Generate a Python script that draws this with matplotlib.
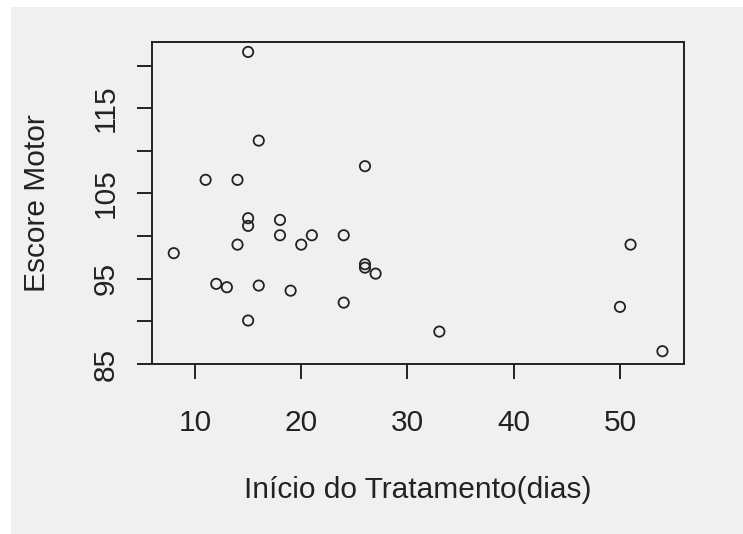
import numpy as np
import matplotlib
matplotlib.use("Agg")
import matplotlib.pyplot as plt
from matplotlib.patches import Rectangle

# Início do tratamento (dias) x escore motor
inicio = [15, 16, 26, 11, 14, 15, 15, 18, 18, 21, 24, 14, 20, 8,
          26, 26, 27, 12, 13, 16, 19, 24, 15, 33, 51, 50, 54]
escore = [121.6, 111.2, 108.2, 106.6, 106.6, 102.1, 101.2, 101.9, 100.1, 100.1, 100.1, 99.0, 99.0, 98.0,
          96.7, 96.3, 95.6, 94.4, 94.0, 94.2, 93.6, 92.2, 90.1, 88.8, 99.0, 91.7, 86.5]

x_ticks = [10, 20, 30, 40, 50]
y_ticks = [85, 90, 95, 100, 105, 110, 115, 120]
y_labels = ["85", "", "95", "", "105", "", "115", ""]

plt.rcParams['font.family'] = ['Liberation Sans', 'DejaVu Sans']
bg = "#f0f0f0"

fig = plt.figure(figsize=(7.43, 5.34), dpi=100)
fig.patch.set_facecolor("white")
fig.patches.append(Rectangle((11 / 743, 0), 1, 1 - 7 / 534, transform=fig.transFigure,
                             facecolor=bg, edgecolor="none", zorder=-10))

ax = fig.add_axes([152.3 / 743, 1 - 364 / 534, (684 - 152.3) / 743, (364 - 41.7) / 534])
ax.set_facecolor(bg)

ax.scatter(inicio, escore, s=55, facecolors="none", edgecolors="#222222", linewidths=1.3)

ax.set_xlim(5.98, 56.03)
ax.set_ylim(85.0, 122.8)
ax.set_xticks(x_ticks)
ax.set_yticks(y_ticks)
ax.set_yticklabels(y_labels, rotation=90, va="center")

ax.tick_params(axis="both", direction="out", length=10.5, width=1.4, labelsize=21.5,
               colors="#222222")
ax.tick_params(axis="x", pad=22)
ax.tick_params(axis="y", pad=13)
for sp in ax.spines.values():
    sp.set_linewidth(1.4)
    sp.set_color("#222222")

ax.set_xlabel("Início do Tratamento(dias)", fontsize=21.5, color="#222222", labelpad=28)
ax.set_ylabel("Escore Motor", fontsize=21.5, color="#222222", labelpad=29)

fig.savefig("out.png", dpi=100, facecolor=fig.get_facecolor())
